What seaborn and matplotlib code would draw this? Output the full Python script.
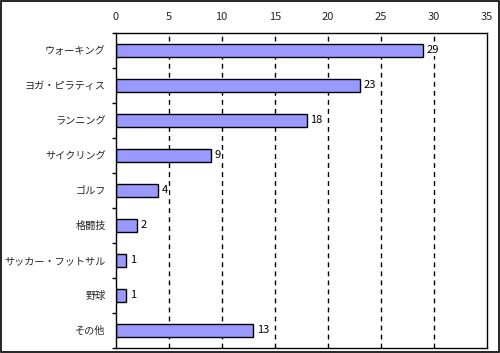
import matplotlib
matplotlib.use("Agg")
import matplotlib.pyplot as plt
from matplotlib.patches import Rectangle
import seaborn as sns
import pandas as pd
import numpy as np

# data
categories = ['ウォーキング', 'ヨガ・ピラティス', 'ランニング', 'サイクリング', 'ゴルフ',
              '格闘技', 'サッカー・フットサル', '野球', 'その他']
counts = [29, 23, 18, 9, 4, 2, 1, 1, 13]
x_ticks = [0, 5, 10, 15, 20, 25, 30, 35]

df = pd.DataFrame({'category': categories, 'count': counts})

sns.set_theme(style='white')
plt.rcParams['font.family'] = ['Noto Sans CJK JP', 'DejaVu Sans']

fig = plt.figure(figsize=(5, 3.53), dpi=100)
ax = fig.add_axes([0.231, 0.015, 0.743, 0.892])

sns.barplot(data=df, x='count', y='category', orient='h', color='#9999FF',
            saturation=1, edgecolor='black', linewidth=1, width=0.37, ax=ax)

# value labels (white box hides the grid line behind them)
for i, v in enumerate(counts):
    ax.text(v + 0.35, i, str(v), va='center', ha='left', fontsize=8, color='black',
            bbox=dict(facecolor='white', edgecolor='none', pad=0.5))

ax.set_xlim(0, 35)
ax.set_ylim(len(categories) - 0.5, -0.5)
ax.xaxis.tick_top()
ax.set_xticks(x_ticks)
ax.set_xticklabels([str(t) for t in x_ticks], fontsize=8)
ax.tick_params(axis='x', length=0, pad=8)
ax.set_xlabel('')
ax.set_ylabel('')

# category labels without ticks, ticks at boundaries
ax.set_yticks(range(len(categories)))
ax.set_yticklabels(categories, fontsize=7.3)
ax.tick_params(axis='y', which='major', length=0, pad=7)
ax.set_yticks(np.arange(-0.5, len(categories), 1), minor=True)
ax.tick_params(axis='y', which='minor', length=3, width=1, color='black', direction='out', left=True)

for t in x_ticks[1:-1]:
    ax.axvline(t, color='black', linestyle=(0, (3.5, 3)), linewidth=1, zorder=0)

for s in ax.spines.values():
    s.set_color('black')
    s.set_linewidth(1)

fig.patches.append(Rectangle((0.001, 0.003), 0.996, 0.994, transform=fig.transFigure,
                             fill=False, edgecolor='black', linewidth=1.2))

fig.savefig('out.png', dpi=100)
